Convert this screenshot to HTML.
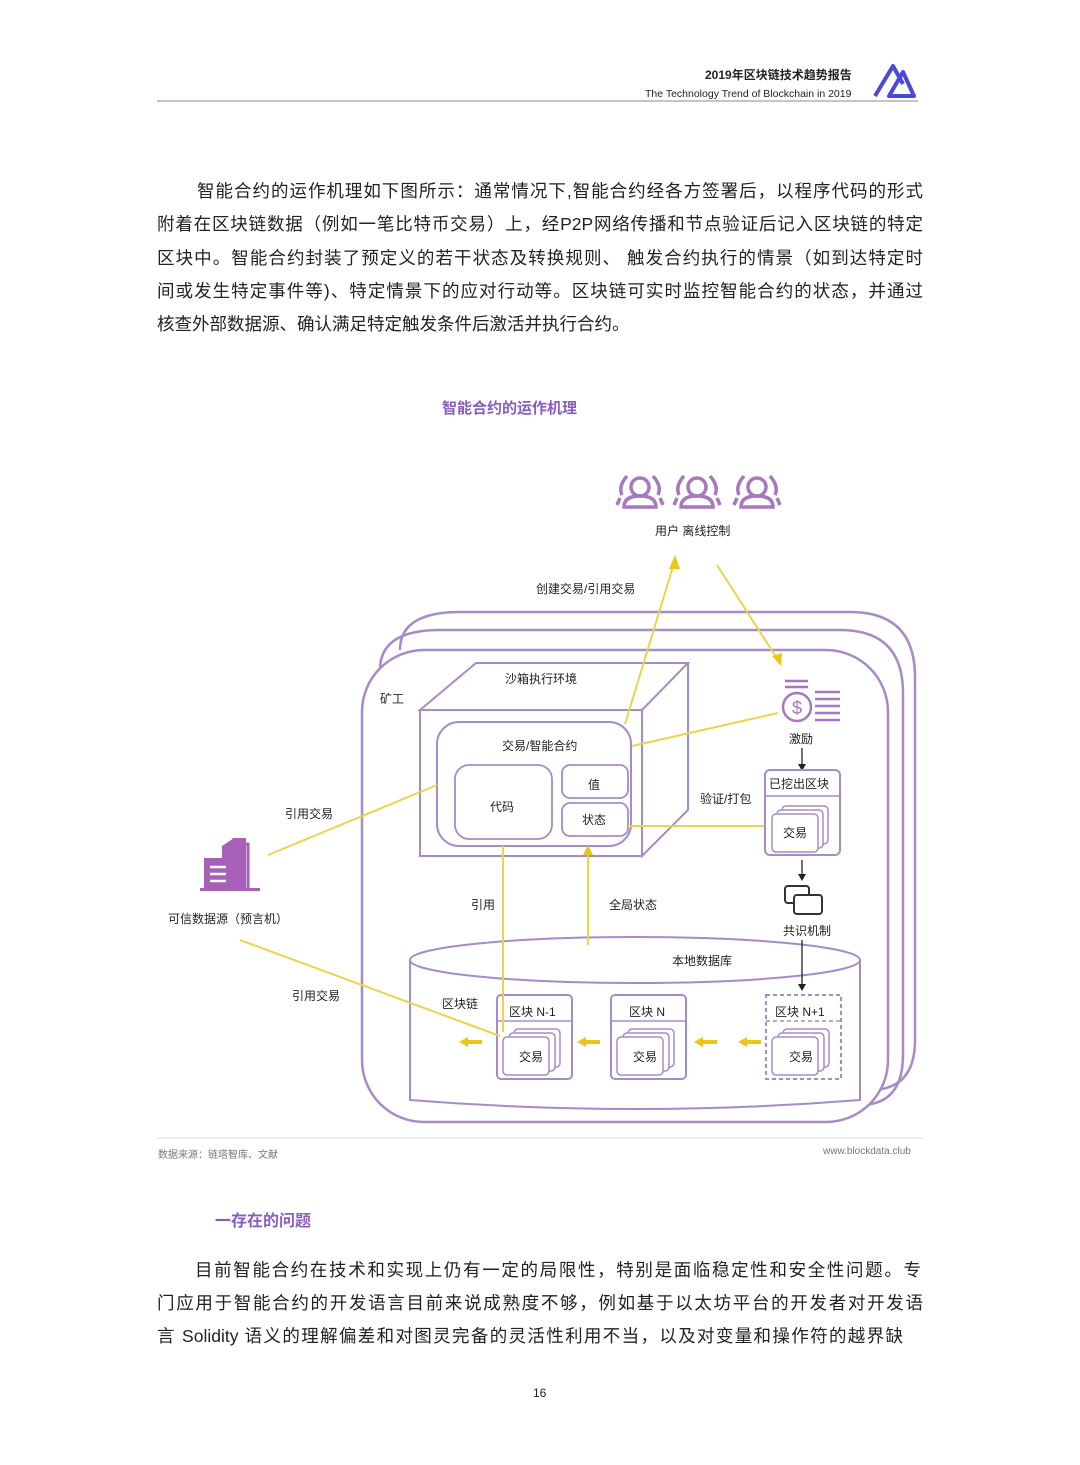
<!DOCTYPE html>
<html><head><meta charset="utf-8"><style>
body{margin:0;width:1080px;height:1465px;background:#fff;position:relative;font-family:"Liberation Sans","Noto Sans CJK SC",sans-serif;color:#222;overflow:hidden}
.l{position:absolute;left:157px;width:766px;font-size:17.5px;line-height:24px;text-align:justify;text-align-last:justify;white-space:nowrap}
.a{position:absolute;font-size:12px;color:#222;white-space:nowrap}
</style></head><body>
<div class="a" style="left:705px;top:66px;font-size:12px;font-weight:bold">2019年区块链技术趋势报告</div>
<div class="a" style="left:645px;top:88px;font-size:10.5px">The Technology Trend of Blockchain in 2019</div>
<svg style="position:absolute;left:0;top:0" width="1080" height="1465">
<line x1="157" y1="101" x2="918" y2="101" stroke="#888" stroke-width="1"/>
<path d="M875 96 L893 66 L903 84 M889 96 L903 72 L914 96 Z" fill="none" stroke="#4a4ad8" stroke-width="4" stroke-linejoin="round"/>
<line x1="157" y1="1138" x2="923" y2="1138" stroke="#ddd"/>
<path d="M460 612 H850 Q915 612 915 677 V1040 Q915 1090 870 1090" fill="none" stroke="#a78bc8" stroke-width="2.5"/>
<path d="M400 650 Q400 612 460 612" fill="none" stroke="#a78bc8" stroke-width="2.5"/>
<path d="M440 630 H840 Q903 630 903 693 V1055 Q903 1105 860 1105" fill="none" stroke="#a78bc8" stroke-width="2.5"/>
<path d="M380 670 Q380 630 440 630" fill="none" stroke="#a78bc8" stroke-width="2.5"/>
<rect x="362" y="650" width="526" height="472" rx="62" fill="#fff" stroke="#a78bc8" stroke-width="2.5"/>
<!-- database shape first -->
<path d="M410 960 V1100 Q635 1118 860 1100 V960" fill="#fff" stroke="#a78bc8" stroke-width="2"/>
<ellipse cx="635" cy="960" rx="225" ry="23" fill="#fff" stroke="#a78bc8" stroke-width="2"/>
<path d="M420 710 L476 663 H688 L642 710 Z M642 710 V856 L688 810 V663" fill="#fff" stroke="#a78bc8" stroke-width="2"/>
<rect x="420" y="710" width="222" height="146" fill="#fff" stroke="#a78bc8" stroke-width="2"/>
<rect x="437" y="722" width="194" height="124" rx="22" fill="#fff" stroke="#a78bc8" stroke-width="2"/>
<rect x="455" y="765" width="97" height="74" rx="14" fill="#fff" stroke="#a78bc8" stroke-width="1.8"/>
<rect x="562" y="765" width="66" height="33" rx="8" fill="#fff" stroke="#a78bc8" stroke-width="1.8"/>
<rect x="562" y="803" width="66" height="33" rx="8" fill="#fff" stroke="#a78bc8" stroke-width="1.8"/>
<!-- blocks -->
<g fill="#fff" stroke="#a78bc8" stroke-width="2">
<rect x="497" y="995" width="75" height="84" rx="4"/><rect x="611" y="995" width="75" height="84" rx="4"/>
</g>
<g stroke="#a78bc8" stroke-width="1.5"><line x1="497" y1="1021" x2="572" y2="1021"/><line x1="611" y1="1021" x2="686" y2="1021"/></g>
<rect x="766" y="995" width="75" height="84" fill="#fff" stroke="#a78bc8" stroke-width="2" stroke-dasharray="4 3"/>
<line x1="766" y1="1021" x2="841" y2="1021" stroke="#a78bc8" stroke-width="1.5" stroke-dasharray="4 3"/>
<g fill="#fff" stroke="#a78bc8" stroke-width="1.5">
<rect x="514" y="1029" width="46" height="38" rx="4"/><rect x="509" y="1033" width="46" height="38" rx="4"/>
<rect x="628" y="1029" width="46" height="38" rx="4"/><rect x="623" y="1033" width="46" height="38" rx="4"/><rect x="617" y="1037" width="46" height="38" rx="4"/>
<rect x="783" y="1029" width="46" height="38" rx="4"/><rect x="778" y="1033" width="46" height="38" rx="4"/><rect x="772" y="1037" width="46" height="38" rx="4"/>
</g>
<g stroke="#ecd44a" stroke-width="2" fill="none">
<line x1="625" y1="724" x2="675" y2="560"/>
<line x1="717" y1="565" x2="778" y2="660"/>
<line x1="632" y1="746" x2="778" y2="713"/>
<line x1="628" y1="826" x2="765" y2="826"/>
<line x1="268" y1="855" x2="437" y2="785"/>
<line x1="503" y1="846" x2="503" y2="1032"/>
<line x1="588" y1="945" x2="588" y2="852"/>
<line x1="240" y1="940" x2="500" y2="1036"/>
</g>
<rect x="503" y="1037" width="46" height="38" rx="4" fill="#fff" stroke="#a78bc8" stroke-width="1.5"/>
<g fill="#ecc51a">
<path d="M675 555 L669 569 L680 569 Z"/>
<path d="M781 666 L772 656 L782 653 Z"/>
<path d="M588 845 L583 855 L593 855 Z"/>
<path d="M459 1042 L468 1037 V1047 Z"/><rect x="468" y="1040" width="14" height="4"/>
<path d="M577 1042 L586 1037 V1047 Z"/><rect x="586" y="1040" width="14" height="4"/>
<path d="M694 1042 L703 1037 V1047 Z"/><rect x="703" y="1040" width="14" height="4"/>
<path d="M738 1042 L747 1037 V1047 Z"/><rect x="747" y="1040" width="14" height="4"/>
</g>
<g fill="none" stroke="#a777c0" stroke-width="3.5">
<g id="u"><circle cx="640" cy="487" r="9"/><path d="M624 507 Q624 496 640 496 Q656 496 656 507 Z"/><path d="M627 476 Q618 486 622 495 M653 476 Q662 486 658 495 M617 505 L620 498 M663 505 L660 498"/></g>
<use href="#u" x="57"/><use href="#u" x="117"/>
</g>
<g stroke="#a777c0" stroke-width="2.5" fill="none">
<line x1="785" y1="681" x2="808" y2="681"/><line x1="785" y1="687" x2="808" y2="687"/>
<circle cx="797" cy="707" r="14"/>
<line x1="815" y1="692" x2="840" y2="692"/><line x1="815" y1="699" x2="840" y2="699"/><line x1="815" y1="706" x2="840" y2="706"/><line x1="815" y1="713" x2="840" y2="713"/><line x1="815" y1="720" x2="840" y2="720"/>
</g>
<text x="797" y="714" font-size="18" fill="#a777c0" text-anchor="middle" font-family="Liberation Sans">$</text>
<g stroke="#222" stroke-width="1.3"><line x1="802" y1="748" x2="802" y2="766"/><line x1="802" y1="860" x2="802" y2="876"/><line x1="802" y1="940" x2="802" y2="986"/></g>
<g fill="#222"><path d="M798 764 L806 764 L802 771Z"/><path d="M798 874 L806 874 L802 881Z"/><path d="M798 984 L806 984 L802 991Z"/></g>
<rect x="765" y="770" width="75" height="85" rx="5" fill="#fff" stroke="#a78bc8" stroke-width="2"/>
<line x1="765" y1="796" x2="840" y2="796" stroke="#a78bc8" stroke-width="1.5"/>
<g fill="#fff" stroke="#a78bc8" stroke-width="1.5"><rect x="782" y="806" width="46" height="38" rx="4"/><rect x="777" y="810" width="46" height="38" rx="4"/><rect x="772" y="814" width="46" height="38" rx="4"/></g>
<g fill="#fff" stroke="#333" stroke-width="2"><rect x="785" y="886" width="24" height="17" rx="3"/><rect x="794" y="895" width="28" height="19" rx="3"/></g>
<g fill="#a660b8"><path d="M222 846 L234 838 H246 V888 H222 Z" /><rect x="204" y="858" width="30" height="32"/><rect x="200" y="888" width="60" height="3"/></g>
<path d="M234 838 V844 H248 V888" fill="none" stroke="#a660b8" stroke-width="3"/>
<g stroke="#fff" stroke-width="2.5"><line x1="210" y1="867" x2="226" y2="867"/><line x1="210" y1="874" x2="226" y2="874"/><line x1="210" y1="881" x2="226" y2="881"/></g>
</svg>
<div class="a" style="left:655px;top:522px">用户 离线控制</div>
<div class="a" style="left:536px;top:580px">创建交易/引用交易</div>
<div class="a" style="left:505px;top:670px">沙箱执行环境</div>
<div class="a" style="left:380px;top:690px">矿工</div>
<div class="a" style="left:502px;top:737px">交易/智能合约</div>
<div class="a" style="left:490px;top:798px">代码</div>
<div class="a" style="left:588px;top:776px">值</div>
<div class="a" style="left:582px;top:811px">状态</div>
<div class="a" style="left:789px;top:730px">激励</div>
<div class="a" style="left:769px;top:775px">已挖出区块</div>
<div class="a" style="left:700px;top:790px">验证/打包</div>
<div class="a" style="left:783px;top:824px">交易</div>
<div class="a" style="left:285px;top:805px">引用交易</div>
<div class="a" style="left:168px;top:910px">可信数据源（预言机）</div>
<div class="a" style="left:471px;top:896px">引用</div>
<div class="a" style="left:609px;top:896px">全局状态</div>
<div class="a" style="left:783px;top:922px">共识机制</div>
<div class="a" style="left:672px;top:952px">本地数据库</div>
<div class="a" style="left:292px;top:987px">引用交易</div>
<div class="a" style="left:442px;top:995px">区块链</div>
<div class="a" style="left:509px;top:1003px">区块 N-1</div>
<div class="a" style="left:629px;top:1003px">区块 N</div>
<div class="a" style="left:775px;top:1003px">区块 N+1</div>
<div class="a" style="left:519px;top:1048px">交易</div>
<div class="a" style="left:633px;top:1048px">交易</div>
<div class="a" style="left:789px;top:1048px">交易</div>
<div class="a" style="left:442px;top:397px;font-size:15px;color:#8a5cc0;font-weight:bold">智能合约的运作机理</div>
<div class="a" style="left:158px;top:1146px;font-size:10px;color:#777">数据来源：链塔智库、文献</div>
<div class="a" style="left:823px;top:1146px;font-size:10px;color:#777">www.blockdata.club</div>
<div class="a" style="left:215px;top:1207px;font-size:16px;color:#8a5cc0;font-weight:bold">一存在的问题</div>
<div class="a" style="left:533px;top:1386px;font-size:12px">16</div>
<div class="l" style="top:179px;left:197px;width:726px">智能合约的运作机理如下图所示：通常情况下,智能合约经各方签署后，以程序代码的形式</div>
<div class="l" style="top:212px">附着在区块链数据（例如一笔比特币交易）上，经P2P网络传播和节点验证后记入区块链的特定</div>
<div class="l" style="top:246px">区块中。智能合约封装了预定义的若干状态及转换规则、 触发合约执行的情景（如到达特定时</div>
<div class="l" style="top:279px">间或发生特定事件等)、特定情景下的应对行动等。区块链可实时监控智能合约的状态，并通过</div>
<div class="l" style="top:312px;text-align-last:left">核查外部数据源、确认满足特定触发条件后激活并执行合约。</div>
<div class="l" style="top:1258px;left:195px;width:726px">目前智能合约在技术和实现上仍有一定的局限性，特别是面临稳定性和安全性问题。专</div>
<div class="l" style="top:1291px">门应用于智能合约的开发语言目前来说成熟度不够，例如基于以太坊平台的开发者对开发语</div>
<div class="l" style="top:1324px;width:746px">言 Solidity 语义的理解偏差和对图灵完备的灵活性利用不当，以及对变量和操作符的越界缺</div>
</body></html>
